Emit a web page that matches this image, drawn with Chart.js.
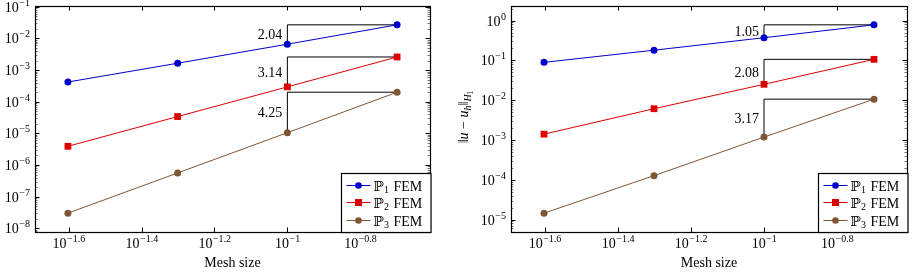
<!DOCTYPE html>
<html>
<head>
<meta charset="utf-8">
<script src="https://cdn.jsdelivr.net/npm/chart.js@4.4.1/dist/chart.umd.min.js"></script>
<style>
  body { margin: 0; background: white; }
  #wrap { position: relative; width: 914px; height: 280px; }
  canvas { position: absolute; top: 0; }
</style>
</head>
<body>
<div id="wrap">
  <canvas id="left" width="457" height="280" style="left:0"></canvas>
  <canvas id="right" width="457" height="280" style="left:457px"></canvas>
</div>
<script>
// mesh sizes
const meshSize = [0.025, 0.05, 0.1, 0.2];

// L2 error (left plot)
const l2P1 = [4.2e-4, 1.65e-3, 6.6e-3, 2.7e-2];
const l2P2 = [3.9e-6, 3.4e-5, 2.95e-4, 2.6e-3];
const l2P3 = [3.0e-8, 5.6e-7, 1.05e-5, 2.0e-4];
const l2Rates = ['2.04', '3.14', '4.25'];

// H1 error (right plot)
const h1P1 = [0.089, 0.18, 0.37, 0.78];
const h1P2 = [1.4e-3, 6.1e-3, 2.5e-2, 0.106];
const h1P3 = [1.45e-5, 1.27e-4, 1.18e-3, 1.06e-2];
const h1Rates = ['1.05', '2.08', '3.17'];

// tick labels
const xTickExp = ['−1.6', '−1.4', '−1.2', '−1', '−0.8'];
const xTickVal = [-1.6, -1.4, -1.2, -1, -0.8];
const l2TickExp = [-8, -7, -6, -5, -4, -3, -2, -1];
const h1TickExp = [-5, -4, -3, -2, -1, 0];

const seriesNames = ['1', '2', '3'];
const colors = ['#0000cc', '#dd0000', '#7f5633'];
const markers = ['circle', 'rect', 'circle'];
const FONT = '"Liberation Serif", "DejaVu Serif", serif';
const MAIN = '14px ' + FONT;
const SUP = '10px ' + FONT;

function logLimits(values) {
    const lo = Math.log10(Math.min(...values));
    const hi = Math.log10(Math.max(...values));
    const pad = (hi - lo) * 0.1;
    return [Math.pow(10, lo - pad), Math.pow(10, hi + pad)];
}

function drawPow(ctx, sup, x, baseY, align) {
    ctx.font = MAIN;
    const wb = ctx.measureText('10').width;
    ctx.font = SUP;
    const ws = ctx.measureText(sup).width;
    const x0 = align === 'center' ? x - (wb + ws) / 2 : x - (wb + ws + 0.5);
    ctx.textAlign = 'left';
    ctx.textBaseline = 'alphabetic';
    ctx.font = MAIN;
    ctx.fillText('10', x0, baseY);
    ctx.font = SUP;
    ctx.fillText(sup, x0 + wb + 0.5, baseY - 6);
}

function drawPieces(ctx, pieces, x, y) {
    let w = 0;
    pieces.forEach(p => { ctx.font = p.f; w += ctx.measureText(p.t).width; });
    let cx = x - w / 2;
    ctx.textAlign = 'left';
    ctx.textBaseline = 'alphabetic';
    pieces.forEach(p => {
        ctx.font = p.f;
        ctx.fillText(p.t, cx, y + (p.dy || 0));
        cx += ctx.measureText(p.t).width;
    });
}

function ChartGenerator(canvas, errs, rates, yTickExp, padding, yTitle) {
    const all = [].concat(...errs);
    const [yMin, yMax] = logLimits(all);
    const [xMin, xMax] = logLimits(meshSize);

    const datasets = [];
    errs.forEach((e, i) => {
        datasets.push({
            data: meshSize.map((h, k) => ({ x: h, y: e[k] })),
            borderColor: colors[i],
            backgroundColor: colors[i],
            pointStyle: markers[i],
            pointRadius: markers[i] === 'rect' ? 4.8 : 3.5,
            pointBorderWidth: 0,
            borderWidth: 1,
            order: 0
        });
    });
    // slope triangles
    errs.forEach((e) => {
        datasets.push({
            data: [
                { x: meshSize[2], y: e[2] },
                { x: meshSize[2], y: e[3] },
                { x: meshSize[3], y: e[3] }
            ],
            borderColor: '#000',
            borderWidth: 1,
            pointRadius: 0,
            order: 1
        });
    });

    const axesPlugin = {
        id: 'pgf_axes',
        beforeDatasetsDraw: (chart) => {
            const { ctx, chartArea: a, scales: { x, y } } = chart;
            ctx.save();
            ctx.strokeStyle = '#000';
            ctx.lineWidth = 1;
            ctx.beginPath();
            // minor y ticks
            for (let d = Math.floor(Math.log10(yMin)); d <= Math.ceil(Math.log10(yMax)); d++) {
                for (let k = 2; k <= 9; k++) {
                    const v = k * Math.pow(10, d);
                    if (v < yMin || v > yMax) continue;
                    const py = Math.round(y.getPixelForValue(v)) + 0.5;
                    ctx.moveTo(a.left, py); ctx.lineTo(a.left + 2.5, py);
                    ctx.moveTo(a.right, py); ctx.lineTo(a.right - 2.5, py);
                }
            }
            ctx.strokeStyle = '#777';
            ctx.stroke();
            ctx.beginPath();
            yTickExp.forEach(d => {
                const py = Math.round(y.getPixelForValue(Math.pow(10, d))) + 0.5;
                ctx.moveTo(a.left, py); ctx.lineTo(a.left + 4.5, py);
                ctx.moveTo(a.right, py); ctx.lineTo(a.right - 4.5, py);
            });
            xTickVal.forEach(d => {
                const px = Math.round(x.getPixelForValue(Math.pow(10, d))) + 0.5;
                ctx.moveTo(px, a.top); ctx.lineTo(px, a.top + 4.5);
                ctx.moveTo(px, a.bottom); ctx.lineTo(px, a.bottom - 4.5);
            });
            ctx.strokeStyle = '#000';
            ctx.stroke();
            ctx.lineWidth = 1.2;
            ctx.strokeRect(Math.round(a.left) + 0.5, Math.round(a.top) + 0.5,
                Math.round(a.right - a.left), Math.round(a.bottom - a.top));

            // tick labels
            ctx.fillStyle = '#000';
            xTickVal.forEach((d, i) => {
                drawPow(ctx, xTickExp[i], x.getPixelForValue(Math.pow(10, d)), a.bottom + 16, 'center');
            });
            yTickExp.forEach(d => {
                const py = y.getPixelForValue(Math.pow(10, d));
                drawPow(ctx, d < 0 ? '−' + (-d) : String(d), a.left - 5, py + 5, 'right');
            });

            // axis titles
            ctx.font = MAIN;
            ctx.textAlign = 'center';
            ctx.textBaseline = 'alphabetic';
            ctx.fillText('Mesh size', (a.left + a.right) / 2, a.bottom + 35);
            if (yTitle) {
                ctx.save();
                ctx.translate(a.left - 43, (a.top + a.bottom) / 2 - 2);
                ctx.rotate(-Math.PI / 2);
                drawPieces(ctx, [
                    { t: '‖', f: MAIN },
                    { t: 'u', f: 'italic ' + MAIN },
                    { t: ' − ', f: MAIN },
                    { t: 'u', f: 'italic ' + MAIN },
                    { t: 'h', f: 'italic ' + SUP, dy: 2.5 },
                    { t: '‖', f: MAIN },
                    { t: 'H', f: 'italic ' + SUP, dy: 2.5 },
                    { t: '1', f: '7.5px ' + FONT, dy: 4.5 }
                ], 0, 0);
                ctx.restore();
            }
            ctx.restore();
        },
        afterDatasetsDraw: (chart) => {
            const { ctx, chartArea: a, scales: { x, y } } = chart;
            ctx.save();
            // rate labels
            ctx.fillStyle = '#000';
            ctx.font = MAIN;
            ctx.textAlign = 'right';
            ctx.textBaseline = 'middle';
            errs.forEach((e, i) => {
                const px = x.getPixelForValue(meshSize[2]);
                const py = (y.getPixelForValue(e[2]) + y.getPixelForValue(e[3])) / 2;
                ctx.fillText(rates[i], px - 5, py + 1);
            });

            // legend
            const bw = 89.5, bh = 59;
            const bx = Math.round(a.right - bw) + 0.5, by = Math.round(a.bottom - bh) + 0.5;
            ctx.fillStyle = 'white';
            ctx.fillRect(bx, by, bw, bh);
            ctx.strokeStyle = '#000';
            ctx.lineWidth = 1.2;
            ctx.strokeRect(bx, by, bw, bh);
            [11, 28.5, 46].forEach((dy, i) => {
                const ry = Math.round(by + dy) + 0.5;
                ctx.strokeStyle = colors[i];
                ctx.fillStyle = colors[i];
                ctx.lineWidth = 1;
                ctx.beginPath();
                ctx.moveTo(bx + 5, ry); ctx.lineTo(bx + 29, ry);
                ctx.stroke();
                if (markers[i] === 'rect') {
                    ctx.fillRect(bx + 17 - 3.5, ry - 3.5, 7, 7);
                } else {
                    ctx.beginPath();
                    ctx.arc(bx + 17, ry, 3.3, 0, Math.PI * 2);
                    ctx.fill();
                }
                ctx.fillStyle = '#000';
                ctx.textAlign = 'left';
                ctx.textBaseline = 'alphabetic';
                ctx.font = MAIN;
                ctx.fillText('ℙ', bx + 32, ry + 5);
                const wp = ctx.measureText('ℙ').width;
                ctx.font = SUP;
                ctx.fillText(seriesNames[i], bx + 32 + wp, ry + 7.5);
                ctx.font = MAIN;
                ctx.fillText('FEM', bx + 52, ry + 5);
            });
            ctx.restore();
        }
    };

    const background = {
        id: 'custom_canvas_background_color',
        beforeDraw: (chart) => {
            const ctx = chart.canvas.getContext('2d');
            ctx.save();
            ctx.globalCompositeOperation = 'destination-over';
            ctx.fillStyle = 'white';
            ctx.fillRect(0, 0, chart.width, chart.height);
            ctx.restore();
        }
    };

    new Chart(canvas, {
        type: 'line',
        plugins: [background, axesPlugin],
        data: { datasets: datasets },
        options: {
            responsive: false,
            animation: false,
            devicePixelRatio: 1,
            layout: { padding: padding },
            scales: {
                x: { type: 'logarithmic', min: xMin, max: xMax, display: false },
                y: { type: 'logarithmic', min: yMin, max: yMax, display: false }
            },
            elements: { line: { tension: 0 } },
            plugins: {
                legend: { display: false },
                tooltip: { enabled: false }
            }
        }
    });
}

ChartGenerator(document.getElementById('left'), [l2P1, l2P2, l2P3], l2Rates, l2TickExp,
    { left: 35, right: 27, top: 6, bottom: 48 }, false);
ChartGenerator(document.getElementById('right'), [h1P1, h1P2, h1P3], h1Rates, h1TickExp,
    { left: 54, right: 7, top: 6, bottom: 48 }, true);
</script>
</body>
</html>
